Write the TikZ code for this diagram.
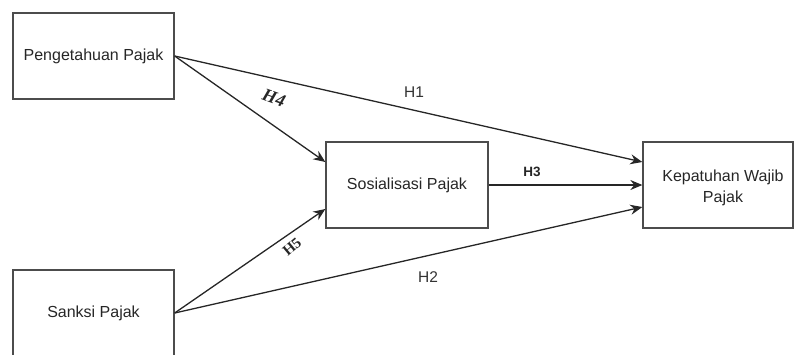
\documentclass[tikz,border=0pt]{standalone}
\usepackage{fontspec}
\setmainfont{Liberation Sans}
\newfontfamily\serifb{Liberation Serif}
\usetikzlibrary{arrows.meta,calc}
\begin{document}
\begin{tikzpicture}[x=1pt,y=-1pt,
  box/.style={draw=black!70,line width=1.3pt,rectangle,inner sep=0pt,align=center,font=\fontsize{16}{18}\selectfont,text=black!85},
  arr/.style={line width=1.3pt,draw=black!85,-{Stealth[length=12pt,width=10pt]}},
  lab/.style={font=\fontsize{15.5}{17}\selectfont,text=black!80,inner sep=1pt}]
\useasboundingbox (0,0) rectangle (794,354);
\clip (0,0) rectangle (794,354);
\node[box,minimum width=161pt,minimum height=86pt] (p) at (93.5,56) {Pengetahuan Pajak};
\node[box,minimum width=161pt,minimum height=90pt] (sk) at (93.5,315) {};
\node[font=\fontsize{16}{18}\selectfont,text=black!85] (skt) at (93.5,313) {Sanksi Pajak};
\node[box,minimum width=162pt,minimum height=86pt] (s) at (407,185) {Sosialisasi Pajak};
\node[box,minimum width=150pt,minimum height=86pt] (k) at (718,185) {};
\node[font=\fontsize{16}{21}\selectfont,text=black!85,align=center] (kt) at (723,188) {Kepatuhan Wajib\\Pajak};
\draw[arr] (p.east) -- ([yshift=23pt]k.west);
\draw[arr] (p.east) -- ([yshift=23pt]s.west);
\draw[arr] ([yshift=2pt]sk.east) -- ([yshift=-24pt]s.west);
\draw[arr] ([yshift=2pt]sk.east) -- ([yshift=-22pt]k.west);
\draw[arr] (s.east) -- (k.west);
\node[lab] (h1) at (414,92) {H1};
\node[lab] (h2) at (428,277) {H2};
\node[font=\bfseries\fontsize{13.5}{15}\selectfont,text=black!85,inner sep=1pt] (h3) at (532,172) {H3};
\node[font=\serifb\bfseries\itshape\fontsize{18}{20}\selectfont,text=black!85,rotate=-20,inner sep=0pt] (h4) at (274,98) {H4};
\node[font=\serifb\bfseries\fontsize{15}{17}\selectfont,text=black!85,rotate=40,inner sep=0pt] (h5) at (292,247) {H5};
\end{tikzpicture}
\end{document}
